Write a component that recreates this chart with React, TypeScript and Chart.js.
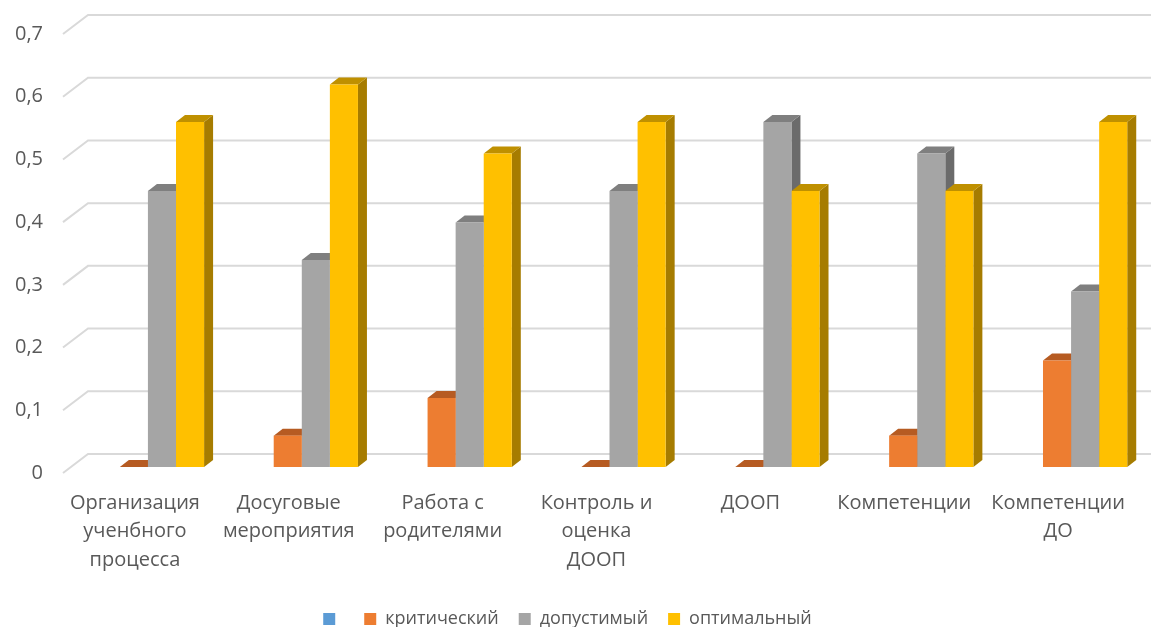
import React, { useEffect, useRef } from "react";
import { Chart, registerables } from "chart.js";

Chart.register(...registerables);

const categories: string[][] = [
  ["Организация", "ученбного", "процесса"],
  ["Досуговые", "мероприятия"],
  ["Работа с", "родителями"],
  ["Контроль и", "оценка", "ДООП"],
  ["ДООП"],
  ["Компетенции"],
  ["Компетенции", "ДО"],
];

const seriesNames = ["", "критический", "допустимый", "оптимальный"];
const blankSeries: (number | null)[] = [null, null, null, null, null, null, null];
const critical: number[] = [0, 0.05, 0.11, 0, 0, 0.05, 0.17];
const acceptable: number[] = [0.44, 0.33, 0.39, 0.44, 0.55, 0.5, 0.28];
const optimal: number[] = [0.55, 0.61, 0.5, 0.55, 0.44, 0.44, 0.55];
const yTicks: number[] = [0, 0.1, 0.2, 0.3, 0.4, 0.5, 0.6, 0.7];

const frontColors = ["#5B9BD5", "#ED7D31", "#A5A5A5", "#FFC000"];
const topColors = ["#3F7FBF", "#B65B22", "#7F7F7F", "#BF9000"];
const sideColors = ["#2E6AA6", "#A34F1C", "#6B6B6B", "#A67C00"];

const SHIFT_X = 13;
const SHIFT_Y = -6;
const DEPTH_X = 9;
const DEPTH_Y = -7;

const threeD = {
  id: "threeD",
  beforeDatasetsDraw(chart: any) {
    const ctx = chart.ctx;
    const area = chart.chartArea;
    const y = chart.scales.y;
    // back-wall gridlines
    ctx.save();
    ctx.strokeStyle = "#D9D9D9";
    ctx.lineWidth = 2;
    for (const v of yTicks) {
      const yf = y.getPixelForValue(v);
      const yb = yf - 19;
      ctx.beginPath();
      ctx.moveTo(area.left + 5, yf);
      ctx.lineTo(area.left + 30, yb);
      ctx.lineTo(chart.width, yb);
      ctx.stroke();
    }
    ctx.restore();

    ctx.save();
    ctx.translate(SHIFT_X, SHIFT_Y);
    chart.data.datasets.forEach((ds: any, di: number) => {
      const meta = chart.getDatasetMeta(di);
      meta.data.forEach((el: any, i: number) => {
        const val = ds.data[i];
        if (val === null || val === undefined) return;
        const p = el.getProps(["x", "y", "base", "width"], true);
        const l = p.x - p.width / 2;
        const r = p.x + p.width / 2;
        const t = p.y;
        const b = p.base;
        // side
        ctx.fillStyle = sideColors[di];
        ctx.beginPath();
        ctx.moveTo(r, t);
        ctx.lineTo(r + DEPTH_X, t + DEPTH_Y);
        ctx.lineTo(r + DEPTH_X, b + DEPTH_Y);
        ctx.lineTo(r, b);
        ctx.closePath();
        ctx.fill();
        // top
        ctx.fillStyle = topColors[di];
        ctx.beginPath();
        ctx.moveTo(l, t);
        ctx.lineTo(r, t);
        ctx.lineTo(r + DEPTH_X, t + DEPTH_Y);
        ctx.lineTo(l + DEPTH_X, t + DEPTH_Y);
        ctx.closePath();
        ctx.fill();
      });
    });
  },
  afterDatasetsDraw(chart: any) {
    chart.ctx.restore();
  },
};

export default function App() {
  const ref = useRef<HTMLCanvasElement | null>(null);

  useEffect(() => {
    document.body.style.margin = "0";
    if (!ref.current) return;
    const font = "'Open Sans', sans-serif";
    const chart = new Chart(ref.current, {
      type: "bar",
      data: {
        labels: categories,
        datasets: [blankSeries, critical, acceptable, optimal].map((d, i) => ({
          label: seriesNames[i],
          data: d,
          backgroundColor: frontColors[i],
          borderWidth: 0,
          categoryPercentage: 0.73,
          barPercentage: 1,
        })),
      },
      options: {
        animation: false,
        responsive: false,
        maintainAspectRatio: false,
        layout: { padding: { top: 34, right: 16, left: 0, bottom: -11 } },
        plugins: {
          tooltip: { enabled: false },
          legend: {
            position: "bottom",
            labels: {
              boxWidth: 12,
              boxHeight: 12,
              padding: 20,
              color: "#595959",
              font: { family: font, size: 18 },
            },
          },
        },
        scales: {
          x: {
            grid: { display: false, drawTicks: false },
            border: { display: false },
            ticks: {
              color: "#595959",
              font: { family: font, size: 20, lineHeight: 1.42 },
              maxRotation: 0,
              autoSkip: false,
              padding: 16,
            },
            afterFit: (s: any) => {
              s.height = 117;
            },
          },
          y: {
            min: 0,
            max: 0.7,
            grid: { display: false, drawTicks: false },
            border: { display: false },
            afterBuildTicks: (s: any) => {
              s.ticks = yTicks.map((v) => ({ value: v }));
            },
            ticks: {
              color: "#595959",
              font: { family: font, size: 20 },
              padding: 15,
              callback: (v: any) => String(Number(v).toFixed(1)).replace(".", ",").replace(/^0,0$/, "0"),
            },
            afterFit: (s: any) => {
              s.width = 58;
            },
          },
        },
      },
      plugins: [threeD],
    });
    return () => chart.destroy();
  }, []);

  return (
    <div style={{ width: 1151, height: 627, background: "#fff" }}>
      <canvas ref={ref} width={1151} height={627} style={{ display: "block" }} />
    </div>
  );
}
